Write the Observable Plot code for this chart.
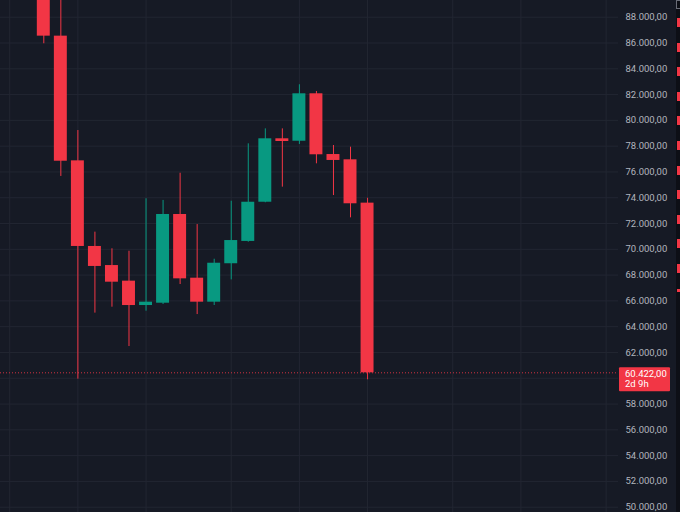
<!DOCTYPE html>
<html>
<head>
<meta charset="utf-8">
<script src="https://cdn.jsdelivr.net/npm/d3@7"></script>
<script src="https://cdn.jsdelivr.net/npm/@observablehq/plot@0.6"></script>
<style>
  html, body { margin: 0; padding: 0; background: #161a25; }
  #wrap { position: relative; width: 680px; height: 512px; overflow: hidden; }
  #edge { position: absolute; left: 676px; top: 0; width: 4px; height: 512px; background: #0d0f16; }
  #stripes { position: absolute; left: 677px; top: 18px; width: 3px; height: 274px;
    background: repeating-linear-gradient(to bottom, #f23645 0 9px, transparent 9px 24.6px); }
  #corner { position: absolute; left: 676px; top: 0; width: 4px; height: 9px; border: 1px solid #6a6d78; border-right: none; box-sizing: border-box; }
</style>
</head>
<body>
<div id="wrap">
  <div id="chart"></div>
  <div id="edge"></div>
  <div id="stripes"></div>
  <div id="corner"></div>
</div>
<script>
// velas semanales, de izquierda a derecha
const opens  = [90800, 86530, 76860, 70220, 68740, 67530, 65640, 65820, 72700, 67760,
                65900, 68880, 70610, 73650, 78570, 78380, 82060, 77350, 76940, 73580]
const highs  = [91800, 89900, 79210, 71330, 70040, 69850, 73920, 73790, 75900, 71920,
                69230, 73730, 78180, 79340, 79340, 82760, 82240, 78050, 77920, 73960]
const lows   = [85940, 75650, 59930, 65050, 65510, 62460, 65200, 65720, 67270, 64940,
                65640, 67630, 70550, 73610, 74820, 78130, 76630, 74170, 72440, 59880]
const closes = [86530, 76830, 70220, 68670, 67450, 65640, 65900, 72700, 67710, 65900,
                68920, 70680, 73650, 78570, 78360, 82060, 77330, 76890, 73530, 60422]

// comienzo de cada mes (indice de vela)
const monthStarts = [-2, 2, 6, 11, 15, 19, 24, 28, 33]
const priceTicks = d3.range(50000, 88001, 2000)
const lastLabel = "2d 9h"

const red = "#f23645"
const green = "#089981"
const grid = "#222632"

const data = opens.map((o, i) => ({
  i, open: o, high: highs[i], low: lows[i], close: closes[i],
  color: closes[i] >= o ? green : red
}))
const last = data[data.length - 1]

const fmt = d3.formatLocale({decimal: ",", thousands: ".", grouping: [3], currency: ["", ""]}).format(",.2f")

// la etiqueta del precio actual tapa la marca de 60.000
const axisTicks = priceTicks.filter(t => Math.abs(t - last.close) > 1000)

const chart = Plot.plot({
  width: 680,
  height: 512,
  marginTop: 0,
  marginBottom: 0,
  marginLeft: 0,
  marginRight: 62,
  style: {background: "#161a25", fontFamily: "Roboto, sans-serif", fontSize: "9.5px", color: "#b2b5be"},
  x: {domain: [-2.541, 33.727], range: [0, 618], axis: null},
  y: {domain: [50000, 88000], range: [506.7, 16.7]},
  marks: [
    Plot.ruleY(priceTicks, {stroke: grid, strokeWidth: 1}),
    Plot.ruleX(monthStarts, {stroke: grid, strokeWidth: 1}),
    Plot.ruleY([last.close], {stroke: red, strokeWidth: 1, strokeDasharray: "1,2", strokeOpacity: 0.85}),
    Plot.ruleX(data, {x: "i", y1: "low", y2: "high", stroke: "color", strokeWidth: 1, clip: true}),
    Plot.rect(data, {
      x1: d => d.i - 0.38, x2: d => d.i + 0.38,
      y1: "open", y2: "close", fill: "color", clip: true
    }),
    Plot.axisY(axisTicks, {
      anchor: "right", tickSize: 0, tickPadding: 7,
      tickFormat: fmt, fill: "#b2b5be", label: null
    })
  ]
})

d3.select('#chart').append(() => chart)

// etiqueta del precio actual
const svg = d3.select(chart)
const yc = chart.scale("y").apply(last.close)
const tag = svg.append("g")
  .attr("font-family", "Roboto, sans-serif")
  .attr("font-size", "9.5px")
  .attr("text-anchor", "start")
tag.append("rect").attr("x", 619).attr("y", yc - 5).attr("width", 51).attr("height", 24).attr("fill", red).attr("rx", 1)
tag.append("text").attr("x", 625).attr("y", yc + 5).attr("fill", "#fff").attr("text-anchor", "start").text(fmt(last.close))
tag.append("text").attr("x", 625).attr("y", yc + 15).attr("fill", "#fff").attr("text-anchor", "start").text(lastLabel)
</script>
</body>
</html>
